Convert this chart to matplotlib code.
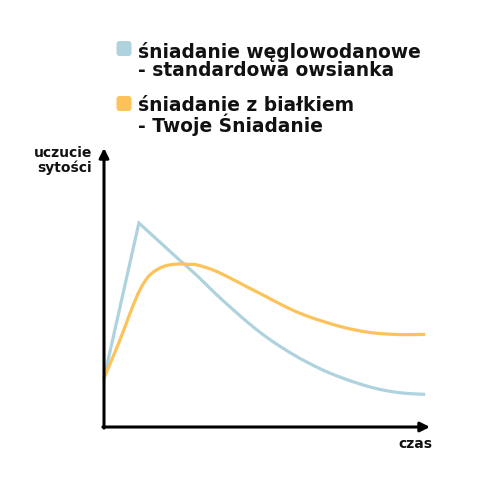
import matplotlib
matplotlib.use("Agg")
import matplotlib.pyplot as plt
from matplotlib.patches import FancyBboxPatch, PathPatch
from matplotlib.path import Path

# ---- data (abstract units: time 0-100, satiety 0-100) ----
carb_x = [0, 10.7, 23.3, 28.5, 33.4, 38.7, 43.9, 48.8, 54.0, 59.2, 61.7, 66.8,
          71.9, 77.0, 82.1, 87.2, 92.3, 98.5]
carb_y = [17.5, 73.1, 59.7, 54.3, 48.7, 43.0, 37.7, 33.1, 28.9, 25.2, 23.6, 20.6,
          18.1, 16.0, 14.2, 12.9, 12.1, 11.7]
prot_x = [0, 4.9, 8.0, 11.0, 14.1, 18.2, 22.3, 25.9, 28.5, 33.4, 38.7, 43.9, 48.8,
          54.0, 59.2, 63.2, 66.8, 71.9, 77.0, 82.1, 87.2, 92.3, 98.5]
prot_y = [17.5, 31.2, 40.8, 49.1, 54.5, 57.5, 58.4, 58.3, 58.1, 56.3, 53.4, 50.2, 47.3,
          44.1, 41.2, 39.4, 38.0, 36.2, 34.8, 33.8, 33.3, 33.1, 33.2]

legend_lines = [["śniadanie węglowodanowe", "- standardowa owsianka"],
                ["śniadanie z białkiem", "- Twoje Śniadanie"]]
colors = ["#AED3DF", "#FDC25A"]
ylabel_lines = ["uczucie", "sytości"]
xlabel = "czas"

W = H = 488
fig = plt.figure(figsize=(4.88, 4.88), dpi=100)


def fx(px):
    return px / W


def fy(py):
    return 1 - py / H


ax = fig.add_axes([fx(104), fy(427), fx(430) - fx(104), fy(148) - fy(427)])
ax.set_xlim(0, 100)
ax.set_ylim(0, 100)
ax.axis("off")


def smooth_path(xs, ys):
    """Smooth (Catmull-Rom style) Bezier path passing through the given points."""
    pts = list(zip(xs, ys))
    verts = [pts[0]]
    codes = [Path.MOVETO]
    n = len(pts)
    for i in range(n - 1):
        p0 = pts[i - 1] if i > 0 else pts[i]
        p1 = pts[i]
        p2 = pts[i + 1]
        p3 = pts[i + 2] if i + 2 < n else pts[i + 1]
        c1 = (p1[0] + (p2[0] - p0[0]) / 6, p1[1] + (p2[1] - p0[1]) / 6)
        c2 = (p2[0] - (p3[0] - p1[0]) / 6, p2[1] - (p3[1] - p1[1]) / 6)
        verts += [c1, c2, p2]
        codes += [Path.CURVE4] * 3
    return Path(verts, codes)


# carbohydrate breakfast: straight rise to a sharp peak, then smooth decline
ax.plot(carb_x[:3], carb_y[:3], color=colors[0], lw=2.3, solid_joinstyle="miter",
        solid_capstyle="butt", clip_on=False, zorder=2)
ax.add_patch(PathPatch(smooth_path(carb_x[2:], carb_y[2:]), facecolor="none",
                       edgecolor=colors[0], lw=2.3, clip_on=False, zorder=2,
                       capstyle="butt"))
# protein breakfast
ax.add_patch(PathPatch(smooth_path(prot_x, prot_y), facecolor="none",
                       edgecolor=colors[1], lw=2.3, clip_on=False, zorder=3,
                       capstyle="butt"))

arrow_kw = dict(arrowstyle="-|>", lw=2.2, color="black", mutation_scale=14,
                shrinkA=0, shrinkB=0)
ax.annotate("", xy=(100, 0), xytext=(-0.35, 0), arrowprops=arrow_kw, annotation_clip=False)
ax.annotate("", xy=(0, 100), xytext=(0, -0.4), arrowprops=arrow_kw, annotation_clip=False)

font = dict(family="DejaVu Sans", weight="bold", color="#111111")

# axis labels
fig.text(fx(92), fy(160.5), "\n".join(ylabel_lines), ha="right", va="center",
         fontsize=10, linespacing=1.05, multialignment="right", **font)
fig.text(fx(432), fy(444), xlabel, ha="right", va="center", fontsize=10, **font)

# legend
sq_tops = [41, 96]
text_centers = [61, 116]
for i in range(2):
    box = FancyBboxPatch((fx(116.5), fy(sq_tops[i] + 15)), fx(15), fx(15),
                         boxstyle="round,pad=0,rounding_size=0.006",
                         transform=fig.transFigure, facecolor=colors[i],
                         edgecolor="none")
    fig.patches.append(box)
    fig.text(fx(138), fy(text_centers[i]), "\n".join(legend_lines[i]), ha="left",
             va="center", fontsize=13.4, linespacing=0.93, **font)

fig.savefig("out.png", dpi=100, facecolor="white")
